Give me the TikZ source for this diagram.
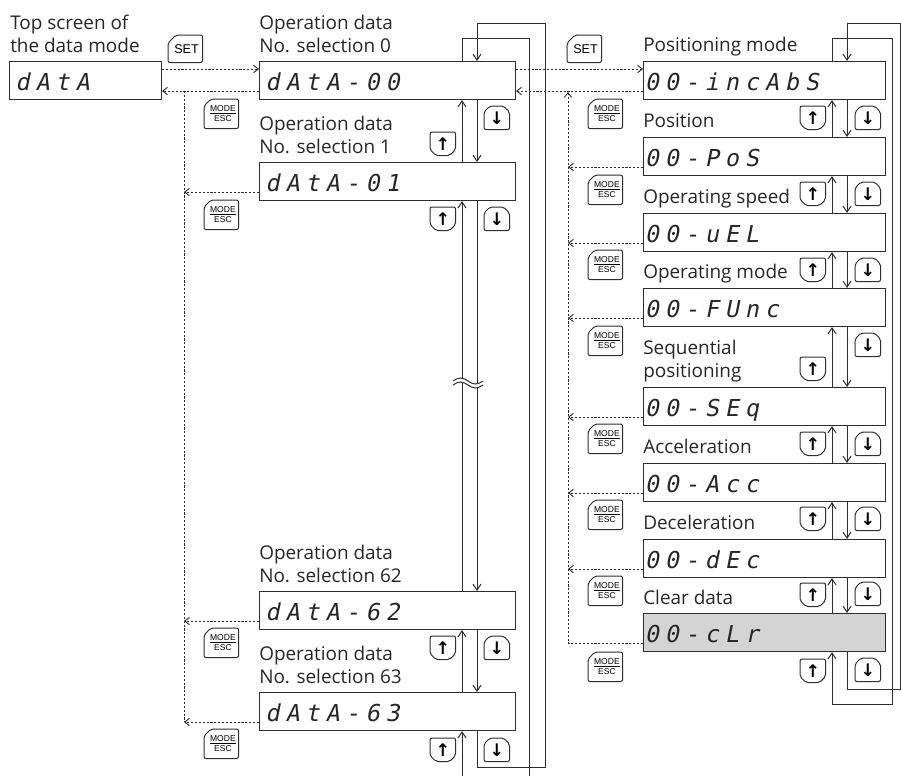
\documentclass[tikz,border=0pt]{standalone}
\usepackage{fontspec}
\setmainfont{Open Sans}
\newfontfamily\keyfont{Liberation Sans}
\newfontfamily\symfont{DejaVu Sans}
\newfontfamily\segfont{DejaVu Sans Mono}[FakeSlant=0.2]
\usetikzlibrary{arrows.meta}
\definecolor{ink}{RGB}{45,45,45}
\definecolor{boxgray}{RGB}{212,212,212}
\def\segloop#1{\ifx#1\relax\else\makebox[15pt][l]{#1}\expandafter\segloop\fi}
\newcommand\segtxt[1]{\segloop#1\relax}
\tikzset{
  disp/.style={draw=ink, line width=0.8pt, anchor=north west, minimum height=28.5pt,
    inner ysep=2pt, text height=15pt, text depth=0pt, align=left, text=black!85,
    font=\segfont\fontsize{17.5pt}{18pt}\selectfont},
  dleft/.style={disp, inner xsep=4.5pt, text width=183pt},
  dright/.style={disp, inner xsep=1pt, text width=179.5pt},
  lbl/.style={anchor=south west, inner sep=0pt, align=left, text depth=0pt,
    font=\fontsize{14.2pt}{17.25pt}\selectfont, text=black!85},
  keynode/.style={inner sep=0pt, anchor=north west},
  keyline/.style={draw=ink, line width=0.75pt, rounded corners=1.5pt},
  sln/.style={draw=ink, line width=0.75pt},
  sar/.style={sln, -{Straight Barb[length=4.5pt,width=6pt]}},
  dsh/.style={draw=ink, line width=0.7pt, dash pattern=on 1.6pt off 1.3pt},
  dar/.style={dsh, -{Straight Barb[length=3.5pt,width=5.5pt]}},
}
\newcommand\setkey[3]{%
  \node[keynode, minimum width=25.5pt, minimum height=20.25pt,
    font=\keyfont\fontsize{9.5pt}{10pt}\selectfont] (#1) at (#2,#3) {\hspace{2pt}SET};
  \draw[keyline] ([shift={(8,0)}]#1.north west) -- (#1.north east) -- (#1.south east)
    -- (#1.south west) -- ([shift={(0,8)}]#1.north west) -- cycle;}
\newcommand\modekey[3]{%
  \node[keynode, minimum width=25.5pt, minimum height=21.75pt, align=center,
    font=\keyfont\fontsize{6.4pt}{7.6pt}\selectfont] (#1) at (#2,#3) {\hspace{2.5pt}\underline{MODE}\\\hspace{2.5pt}ESC};
  \draw[keyline] ([shift={(7,0)}]#1.north west) -- (#1.north east) -- (#1.south east)
    -- (#1.south west) -- ([shift={(0,7)}]#1.north west) -- cycle;}
\newcommand\upkey[3]{%
  \node[keynode, minimum width=18.75pt, minimum height=17.25pt,
    font=\symfont\bfseries\fontsize{13pt}{13pt}\selectfont] (#1) at (#2,#3) {↑};
  \draw[keyline] (#1.north west) -- (#1.north east) -- ([shift={(0,-6)}]#1.south east)
    -- ([shift={(-6,0)}]#1.south east) -- ([shift={(6,0)}]#1.south west)
    -- ([shift={(0,-6)}]#1.south west) -- cycle;}
\newcommand\downkey[3]{%
  \node[keynode, minimum width=18.75pt, minimum height=17.25pt,
    font=\symfont\bfseries\fontsize{13pt}{13pt}\selectfont] (#1) at (#2,#3) {↓};
  \draw[keyline] (#1.south west) -- (#1.south east) -- ([shift={(0,6)}]#1.north east)
    -- ([shift={(-6,0)}]#1.north east) -- ([shift={(6,0)}]#1.north west)
    -- ([shift={(0,6)}]#1.north west) -- cycle;}
\begin{document}
\begin{tikzpicture}[x=0.75pt, y=-0.75pt]
\useasboundingbox (0,0) rectangle (901,776);

% ---------- display boxes ----------
\node[disp, inner xsep=4.5pt, text width=105pt] (L) at (9,61) {\segtxt{dAtA}};
\node[dleft] (D0)  at (259,61)  {\segtxt{dAtA-00}};
\node[dleft] (D1)  at (259,162) {\segtxt{dAtA-01}};
\node[dleft] (D62) at (259,591) {\segtxt{dAtA-62}};
\node[dleft] (D63) at (259,692) {\segtxt{dAtA-63}};

\node[dright] (R1) at (643,61)  {\segtxt{00-incAbS}};
\node[dright] (R2) at (643,137) {\segtxt{00-PoS}};
\node[dright] (R3) at (643,213) {\segtxt{00-uEL}};
\node[dright] (R4) at (643,288) {\segtxt{00-FUnc}};
\node[dright] (R5) at (643,387) {\segtxt{00-SEq}};
\node[dright] (R6) at (643,463) {\segtxt{00-Acc}};
\node[dright] (R7) at (643,539) {\segtxt{00-dEc}};
\node[dright, fill=boxgray] (R8) at (643,613) {\segtxt{00-cLr}};

% ---------- labels ----------
\node[lbl] (tL)   at (10,53)  {Top screen of\\the data mode};
\node[lbl] (tD0)  at (259,53) {Operation data\\No. selection 0};
\node[lbl] (tD1)  at (259,154) {Operation data\\No. selection 1};
\node[lbl] (tD62) at (259,583) {Operation data\\No. selection 62};
\node[lbl] (tD63) at (259,684) {Operation data\\No. selection 63};
\node[lbl] (tR1) at (643,52)  {Positioning mode};
\node[lbl] (tR2) at (643,128) {Position};
\node[lbl] (tR3) at (643,204) {Operating speed};
\node[lbl] (tR4) at (643,279) {Operating mode};
\node[lbl] (tR5) at (643,378) {Sequential\\positioning};
\node[lbl] (tR6) at (643,454) {Acceleration};
\node[lbl] (tR7) at (643,530) {Deceleration};
\node[lbl] (tR8) at (643,605) {Clear data};

% ---------- keys ----------
\setkey{setA}{168}{35}
\setkey{setB}{567}{35}
\foreach \i/\y in {1/99,2/200,3/628,4/729} {\modekey{mL\i}{204}{\y}}
\foreach \i/\y in {1/99,2/175,3/250,4/326,5/424,6/500,7/576,8/652} {\modekey{mR\i}{588}{\y}}
\foreach \i/\y in {1/132,2/207,3/636,4/738} {\upkey{uL\i}{430}{\y}}
\foreach \i/\y in {1/106,2/207,3/636,4/738} {\downkey{dL\i}{484}{\y}}
\foreach \i/\y in {1/106,2/182,3/258,4/357,5/432,6/507,7/583,8/659} {\upkey{uR\i}{800}{\y}}
\foreach \i/\y in {1/106,2/182,3/258,4/333,5/432,6/507,7/582,8/658} {\downkey{dR\i}{855}{\y}}

% ---------- helper coordinates ----------
\coordinate (lbus) at (184,0);
\coordinate (rbus) at (568,0);
\coordinate (lup) at (462,0);
\coordinate (ldn) at (477,0);
\coordinate (rup) at (832,0);
\coordinate (rdn) at (847,0);

% ---------- dashed SET / MODE connectors ----------
\draw[dar] (L.east |- 0,69) -- (D0.west |- 0,69);
\draw[dar] (D0.west |- 0,91) -- (L.east |- 0,91);
\draw[dsh] (lbus |- 0,91) -- (lbus |- 0,722);
\draw[dar] (D1.west |- 0,192) -- (lbus |- 0,192);
\draw[dar] (D62.west |- 0,621) -- (lbus |- 0,621);
\draw[dar] (D63.west |- 0,722) -- (lbus |- 0,722);

\draw[dar] (D0.east |- 0,69) -- (R1.west |- 0,69);
\draw[dar] (R1.west |- 0,91) -- (D0.east |- 0,91);
\draw[dar] (R8.west |- 0,643) -- (rbus |- 0,643) -- (rbus |- 0,92);
\draw[dar] (R2.west |- 0,167) -- (rbus |- 0,167);
\draw[dar] (R3.west |- 0,243) -- (rbus |- 0,243);
\draw[dar] (R4.west |- 0,318) -- (rbus |- 0,318);
\draw[dar] (R5.west |- 0,417) -- (rbus |- 0,417);
\draw[dar] (R6.west |- 0,493) -- (rbus |- 0,493);
\draw[dar] (R7.west |- 0,569) -- (rbus |- 0,569);

% ---------- left column up/down ----------
\draw[sar] (D1.north -| lup) -- (D0.south -| lup);
\draw[sar] (D0.south -| ldn) -- (D1.north -| ldn);
\draw[sar] (D62.north -| lup) -- (D1.south -| lup);
\draw[sar] (D1.south -| ldn) -- (D62.north -| ldn);
\draw[sar] (D63.north -| lup) -- (D62.south -| lup);
\draw[sar] (D62.south -| ldn) -- (D63.north -| ldn);
\draw[sar] (lup |- 0,776) -- (D63.south -| lup);
\draw[sln] (D0.north -| lup) -- (lup |- 0,38) -- (529,38) -- (529,776);
\draw[sar] (D63.south -| ldn) -- (ldn |- 0,767) -- (545,767) -- (545,23)
  -- (ldn |- 0,23) -- (D0.north -| ldn);

% break mark
\fill[white] (453,381) sin (460.5,378) cos (468,381) sin (475.5,384) cos (483,381)
  -- (483,385) sin (475.5,388) cos (468,385) sin (460.5,382) cos (453,385) -- cycle;
\draw[sln] (453,381) sin (460.5,378) cos (468,381) sin (475.5,384) cos (483,381);
\draw[sln] (453,385) sin (460.5,382) cos (468,385) sin (475.5,388) cos (483,385);

% ---------- right column up/down ----------
\foreach \a/\b in {R1/R2,R2/R3,R3/R4,R4/R5,R5/R6,R6/R7,R7/R8} {
  \draw[sar] (\b.north -| rup) -- (\a.south -| rup);
  \draw[sar] (\a.south -| rdn) -- (\b.north -| rdn);
}
\draw[sar] (R1.north -| rup) -- (rup |- 0,38) -- (892,38) -- (892,704)
  -- (rup |- 0,704) -- (R8.south -| rup);
\draw[sar] (R8.south -| rdn) -- (rdn |- 0,689) -- (900,689) -- (900,23)
  -- (rdn |- 0,23) -- (R1.north -| rdn);
\end{tikzpicture}
\end{document}
